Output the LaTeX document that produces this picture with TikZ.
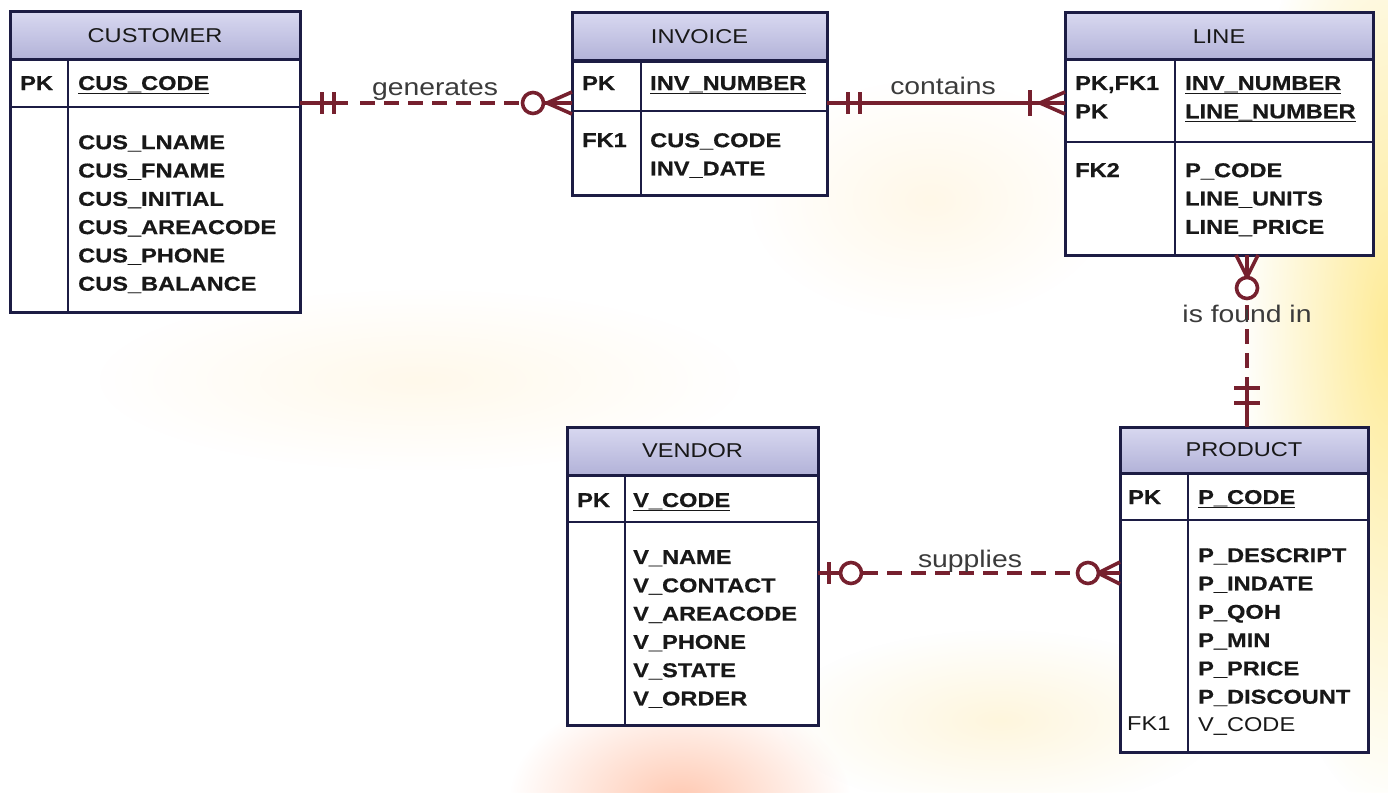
\documentclass[tikz,border=0pt]{standalone}
\usepackage{fontspec}
\setmainfont[FakeStretch=1.18, BoldFeatures={FakeBold=0.5}]{Liberation Sans}
\usetikzlibrary{fadings}
\definecolor{relc}{HTML}{76202E}
\definecolor{bord}{HTML}{1C1C44}
\definecolor{hdrtop}{HTML}{D8D8F0}
\definecolor{hdrbot}{HTML}{B2B2D8}
\definecolor{ink}{HTML}{181818}
\newcommand\atfont{\fontsize{20}{28.3}\selectfont\bfseries}
\newcommand\hdfont{\fontsize{20}{24}\selectfont}
\newcommand\lbfont{\fontsize{24}{28}\selectfont}
\newcommand\ulx[1]{\setbox0\hbox{#1}\rlap{\rule[-4.2pt]{\wd0}{1.6pt}}\box0}
\tikzfading[name=softblob, inner color=transparent!0, outer color=transparent!100]
\tikzset{
 tbl/.style={draw=bord, line width=3pt, fill=white, inner sep=0pt, outer sep=0pt, anchor=north west},
 hdr/.style={draw=bord, line width=3pt, top color=hdrtop, bottom color=hdrbot, inner sep=0pt, outer sep=0pt, anchor=north west, font=\hdfont, text=ink},
 sep/.style={draw=bord, line width=2.8pt},
 att/.style={font=\atfont, text=ink, inner sep=0pt, anchor=north west, align=left},
 key/.style={font=\atfont, text=ink, inner sep=0pt, anchor=base west},
 rel/.style={draw=relc, line width=3.6pt},
 reldash/.style={rel, dash pattern=on 15pt off 9pt},
 lbl/.style={font=\lbfont, text=ink!85, inner sep=0pt, anchor=base},
 pics/bar/.style={code={\draw[rel] (0,-11) -- (0,11);}},
 pics/ring/.style={code={\draw[rel, fill=white] (0,0) circle (10.5);}},
 pics/crow/.style={code={\draw[rel] (0,0) -- (#1,-11) (0,0) -- (#1,0) (0,0) -- (#1,11);}}
}
\begin{document}
\begin{tikzpicture}[x=1pt,y=-1pt]
\useasboundingbox (0,0) rectangle (1388,792);
\fill[white] (0,0) rectangle (1388,792);
% soft background tints
\fill[yellow!70!orange!40, path fading=softblob] (1390,330) ellipse (150 and 480);
\fill[red!40!orange!30, path fading=softblob] (680,800) ellipse (170 and 110);
\fill[yellow!40!orange!8, path fading=softblob] (930,200) ellipse (180 and 120);
\fill[yellow!40!orange!7, path fading=softblob] (420,380) ellipse (320 and 90);
\fill[yellow!50!orange!12, path fading=softblob] (1000,720) ellipse (220 and 90);

% ---------- CUSTOMER
\node[tbl, minimum width=290pt, minimum height=300pt] (cus) at (10,12) {};
\node[hdr, minimum width=290pt, minimum height=48pt] (cush) at (cus.north west) {CUSTOMER};
\draw[sep] ([yshift=-95pt]cus.north west) -- ([yshift=-95pt]cus.north east);
\draw[sep] ([xshift=58pt]cush.south west) -- ([xshift=58pt]cus.south west);
\node[key] (cuspk) at (20,90) {PK};
\node[key] (cuspkn) at (78,90) {\ulx{CUS\_CODE}};
\node[att] (cusatt) at (78,135) {CUS\_LNAME\\CUS\_FNAME\\CUS\_INITIAL\\CUS\_AREACODE\\CUS\_PHONE\\CUS\_BALANCE};

% ---------- INVOICE
\node[tbl, minimum width=255pt, minimum height=182pt] (inv) at (572,13) {};
\node[hdr, minimum width=255pt, minimum height=48pt] (invh) at (inv.north west) {INVOICE};
\draw[sep] ([yshift=-98pt]inv.north west) -- ([yshift=-98pt]inv.north east);
\draw[sep] ([xshift=69pt]invh.south west) -- ([xshift=69pt]inv.south west);
\node[key] (invpk) at (582,90) {PK};
\node[key] (invpkn) at (650,90) {\ulx{INV\_NUMBER}};
\node[key] (invfk) at (582,147) {FK1};
\node[att] (invatt) at (650,133) {CUS\_CODE\\INV\_DATE};

% ---------- LINE
\node[tbl, minimum width=308pt, minimum height=242pt] (lin) at (1065,13) {};
\node[hdr, minimum width=308pt, minimum height=47pt] (linh) at (lin.north west) {LINE};
\draw[sep] ([yshift=-129pt]lin.north west) -- ([yshift=-129pt]lin.north east);
\draw[sep] ([xshift=110pt]linh.south west) -- ([xshift=110pt]lin.south west);
\node[att] (linpk) at (1075,76) {PK,FK1\\PK};
\node[att] (linpkn) at (1185,76) {\ulx{INV\_NUMBER}\\\ulx{LINE\_NUMBER}};
\node[key] (linfk) at (1075,177) {FK2};
\node[att] (linatt) at (1185,163) {P\_CODE\\LINE\_UNITS\\LINE\_PRICE};

% ---------- VENDOR
\node[tbl, minimum width=251pt, minimum height=298pt] (ven) at (567,427) {};
\node[hdr, minimum width=251pt, minimum height=48pt] (venh) at (ven.north west) {VENDOR};
\draw[sep] ([yshift=-95pt]ven.north west) -- ([yshift=-95pt]ven.north east);
\draw[sep] ([xshift=58pt]venh.south west) -- ([xshift=58pt]ven.south west);
\node[key] (venpk) at (577,507) {PK};
\node[key] (venpkn) at (633,507) {\ulx{V\_CODE}};
\node[att] (venatt) at (633,550) {V\_NAME\\V\_CONTACT\\V\_AREACODE\\V\_PHONE\\V\_STATE\\V\_ORDER};

% ---------- PRODUCT
\node[tbl, minimum width=248pt, minimum height=325pt] (pro) at (1120,427) {};
\node[hdr, minimum width=248pt, minimum height=46pt] (proh) at (pro.north west) {PRODUCT};
\draw[sep] ([yshift=-93pt]pro.north west) -- ([yshift=-93pt]pro.north east);
\draw[sep] ([xshift=68pt]proh.south west) -- ([xshift=68pt]pro.south west);
\node[key] (propk) at (1128,504) {PK};
\node[key] (propkn) at (1198,504) {\ulx{P\_CODE}};
\node[att] (proatt) at (1198,548) {P\_DESCRIPT\\P\_INDATE\\P\_QOH\\P\_MIN\\P\_PRICE\\P\_DISCOUNT\\\mdseries V\_CODE};
\node[key, font=\atfont\mdseries] (profk) at (1127,730) {FK1};

% ---------- connectors
% generates: CUSTOMER -> INVOICE
\path (cus.north east) ++(0,91) coordinate (gA);
\path (inv.north west) ++(0,90) coordinate (gB);
\draw[rel] (gA) -- ([xshift=48pt]gA);
\draw[reldash] ([xshift=60pt]gA) -- ([xshift=-50pt]gB);
\draw[rel] ([xshift=-50pt]gB) -- (gB);
\pic at ([xshift=22pt]gA) {bar};
\pic at ([xshift=34pt]gA) {bar};
\pic at ([xshift=-39pt]gB) {ring};
\pic at ([xshift=-25pt]gB) {crow=25};
\node[lbl] (lgen) at (435,95) {generates};

% contains: INVOICE -> LINE
\path (inv.north east) ++(0,90) coordinate (cA);
\path (lin.north west) ++(0,90) coordinate (cB);
\draw[rel] (cA) -- (cB);
\pic at ([xshift=21pt]cA) {bar};
\pic at ([xshift=33pt]cA) {bar};
\pic[yscale=1.15] at ([xshift=-35pt]cB) {bar};
\pic at ([xshift=-25pt]cB) {crow=25};
\node[lbl] (lcon) at (943,94) {contains};

% is found in: LINE -> PRODUCT
\path (lin.south west) ++(182,0) coordinate (fA);
\path (pro.north west) ++(127,0) coordinate (fB);
\draw[rel] (fA) -- ([yshift=-45pt]fA);
\draw[reldash] ([yshift=-50pt]fA) -- ([yshift=50pt]fB);
\draw[rel] ([yshift=50pt]fB) -- (fB);
\pic[rotate=90] at ([yshift=-22pt]fA) {crow=22};
\pic at ([yshift=-33pt]fA) {ring};
\pic[rotate=90, yscale=1.15] at ([yshift=39pt]fB) {bar};
\pic[rotate=90, yscale=1.15] at ([yshift=24pt]fB) {bar};
\node[lbl] (lfnd) at (1247,322) {is found in};

% supplies: VENDOR -> PRODUCT
\path (ven.north east) ++(0,146) coordinate (sA);
\path (pro.north west) ++(0,146) coordinate (sB);
\draw[rel] (sA) -- ([xshift=33pt]sA);
\draw[reldash] ([xshift=45pt]sA) -- ([xshift=-44pt]sB);
\draw[rel] ([xshift=-44pt]sB) -- (sB);
\pic at ([xshift=11pt]sA) {bar};
\pic at ([xshift=33pt]sA) {ring};
\pic at ([xshift=-32pt]sB) {ring};
\pic at ([xshift=-22pt]sB) {crow=22};
\node[lbl] (lsup) at (970,567) {supplies};
\end{tikzpicture}
\end{document}
